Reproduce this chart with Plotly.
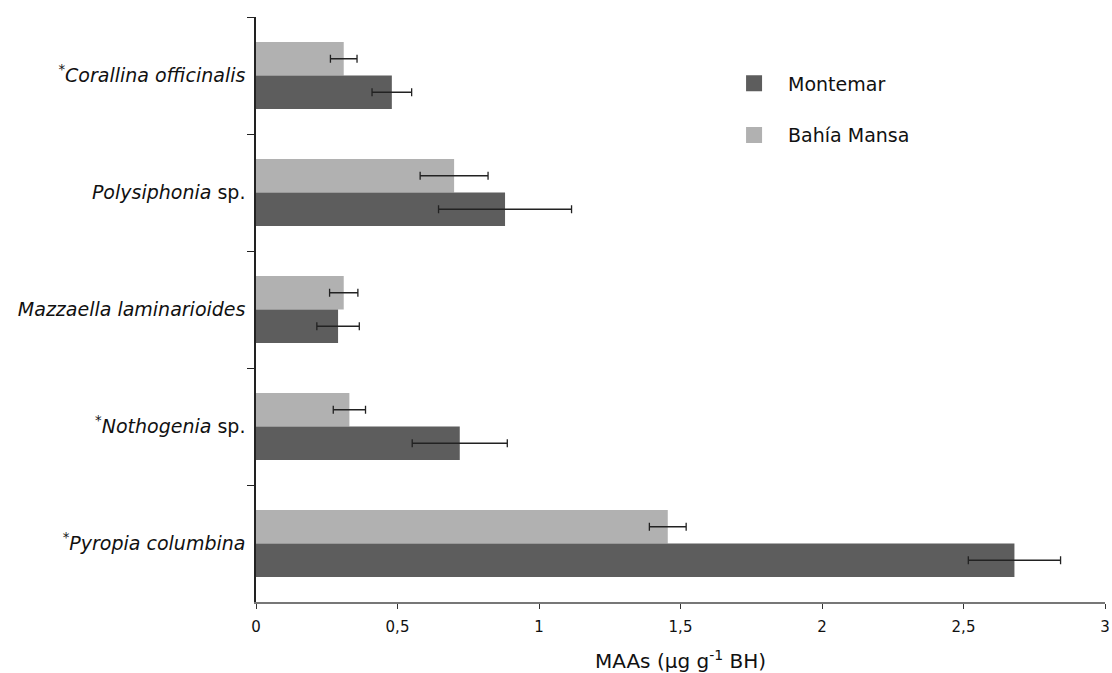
import plotly.graph_objects as go

STAR = "<sup>*</sup>"
categories = [
    STAR + "<i>Corallina officinalis</i>",
    "<i>Polysiphonia</i> sp.",
    "<i>Mazzaella laminarioides</i>",
    STAR + "<i>Nothogenia</i> sp.",
    STAR + "<i>Pyropia columbina</i>",
]
montemar = [0.48, 0.88, 0.29, 0.72, 2.68]
montemar_err = [0.07, 0.235, 0.075, 0.168, 0.163]
bahia = [0.31, 0.70, 0.31, 0.33, 1.455]
bahia_err = [0.047, 0.12, 0.05, 0.057, 0.065]
tick_vals = [0, 0.5, 1, 1.5, 2, 2.5, 3]
tick_text = ["0", "0,5", "1", "1,5", "2", "2,5", "3"]

DARK = "#5d5d5d"
LIGHT = "#b1b1b1"

fig = go.Figure()
fig.add_trace(go.Bar(
    y=categories, x=bahia, orientation="h", name="Bahía Mansa",
    marker=dict(color=LIGHT, line=dict(width=0)),
    error_x=dict(type="data", array=bahia_err, visible=True, color="#222222", thickness=1.3, width=4),
    showlegend=False,
))
fig.add_trace(go.Bar(
    y=categories, x=montemar, orientation="h", name="Montemar",
    marker=dict(color=DARK, line=dict(width=0)),
    error_x=dict(type="data", array=montemar_err, visible=True, color="#222222", thickness=1.3, width=4),
    showlegend=False,
))
# legend entries (square swatches)
fig.add_trace(go.Scatter(x=[None], y=[None], mode="markers", name="Montemar",
                         marker=dict(symbol="square", size=17, color=DARK),
                         legendgroup="m", legendrank=1))
fig.add_trace(go.Scatter(x=[None], y=[None], mode="markers", name="Bahía Mansa",
                         marker=dict(symbol="square", size=17, color=LIGHT),
                         legendgroup="b", legendrank=2))

fig.update_layout(
    width=1112, height=673,
    margin=dict(l=256, r=7, t=17, b=71),
    paper_bgcolor="white", plot_bgcolor="white",
    barmode="group", bargap=0.427, bargroupgap=0,
    font=dict(family="DejaVu Sans", color="#111111"),
    showlegend=True,
    legend=dict(x=0.5466, y=0.919, xanchor="left", yanchor="top",
                font=dict(size=19, family="DejaVu Sans", color="#111111"),
                traceorder="grouped", tracegroupgap=24, itemsizing="trace",
                itemwidth=58, bgcolor="rgba(0,0,0,0)"),
    xaxis=dict(
        range=[0, 3], tickvals=tick_vals, ticktext=tick_text,
        showgrid=False, zeroline=False, automargin=False,
        showline=True, linecolor="#777777", linewidth=1.5,
        ticks="outside", ticklen=5, tickcolor="#333333",
        tickfont=dict(size=15, family="DejaVu Sans", color="#111111"),
        ticklabelstandoff=5,
        title=dict(text="MAAs (μg g<sup>-1</sup> BH)", font=dict(size=20, family="DejaVu Sans", color="#111111"), standoff=20),
    ),
    yaxis=dict(
        autorange="reversed", type="category", automargin=False,
        showgrid=False, zeroline=False,
        showline=True, linecolor="#222222", linewidth=1.5,
        ticks="outside", ticklen=7, tickcolor="#222222", tickson="boundaries",
        tickfont=dict(size=19, family="DejaVu Sans", color="#111111"),
        ticklabelstandoff=5,
    ),
)

fig.write_html("out.html", default_width="1112px", default_height="673px",
               config={"displayModeBar": False},
               post_script="document.body.style.margin='0';document.body.style.overflow='hidden';")
